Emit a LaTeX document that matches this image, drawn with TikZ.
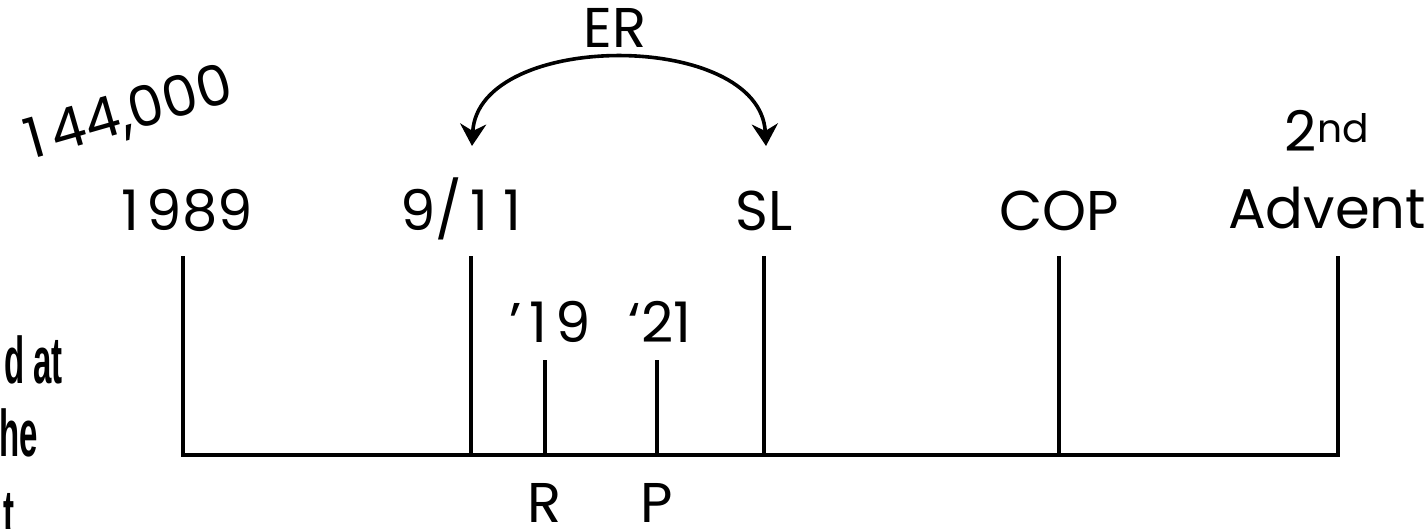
\documentclass[tikz,border=0pt]{standalone}
\usepackage{fontspec}
\setmainfont{Poppins}
\newfontfamily\condfont{Liberation Sans}
\usetikzlibrary{arrows.meta}
\newcommand\onedigit{\makebox[0.6em][c]{1}}
\tikzset{
  tl/.style={line width=3.6pt, line cap=rect},
  lbl/.style={font=\fontsize{56}{60}\selectfont, inner sep=0pt, anchor=base},
  side/.style={font=\fontsize{66}{70}\selectfont\bfseries\condfont, inner sep=0pt, anchor=base east},
  arc/.style={line width=3.6pt, {Stealth[length=22pt,width=26pt,inset=7pt]}-{Stealth[length=22pt,width=26pt,inset=7pt]}}
}
\begin{document}
\begin{tikzpicture}[x=1pt,y=-1pt]
\useasboundingbox (0,0) rectangle (1427,529);
\clip (0,0) rectangle (1427,529);
% tick coordinates
\coordinate (b1989) at (183,455); \coordinate (t1989) at (183,258);
\coordinate (b911) at (471,455);  \coordinate (t911) at (471,258);
\coordinate (bR) at (545,455);    \coordinate (tR) at (545,362);
\coordinate (bP) at (657,455);    \coordinate (tP) at (657,362);
\coordinate (bSL) at (764,455);   \coordinate (tSL) at (764,258);
\coordinate (bCOP) at (1059,455); \coordinate (tCOP) at (1059,258);
\coordinate (bAdv) at (1338,455); \coordinate (tAdv) at (1338,258);
% base line and ticks
\draw[tl] (b1989) -- (bAdv);
\foreach \n in {1989,911,R,P,SL,COP,Adv} \draw[tl] (b\n) -- (t\n);
% labels
\node[lbl] (l1989) at (183,231) {\onedigit989};
\node[lbl] (l911) at (465,231) {9/\onedigit\onedigit};
\node[lbl] (lSL) at (764,231) {SL};
\node[lbl] (lCOP) at (1059,231) {COP};
\node[lbl] (lAdv) at (1327,229) {Advent};
\node[lbl] (l2nd) at (1327,152) {2\textsuperscript{nd}};
\node[lbl] (l19) at (550,342) {’\onedigit9};
\node[lbl] (l21) at (660,342) {‘21};
\node[lbl] (lR) at (545,522) {R};
\node[lbl] (lP) at (657,522) {P};
\node[lbl] (lER) at (615,48) {ER};
\node[lbl, rotate=16, anchor=base west] (l144) at (24,162) {\onedigit44,000};
% side text
\node[side] (s1) at (63,383) {\scalebox{0.5}[1]{d at}};
\node[side] (s2) at (38,456) {\scalebox{0.5}[1]{he}};
\node[side] (s3) at (15,536) {\scalebox{0.5}[1]{t}};
% ER arc
\coordinate (aL) at (472,146);
\coordinate (aR) at (766,146);
\draw[arc] (aL) .. controls (478,30) and (760,30) .. (aR);
\end{tikzpicture}
\end{document}
